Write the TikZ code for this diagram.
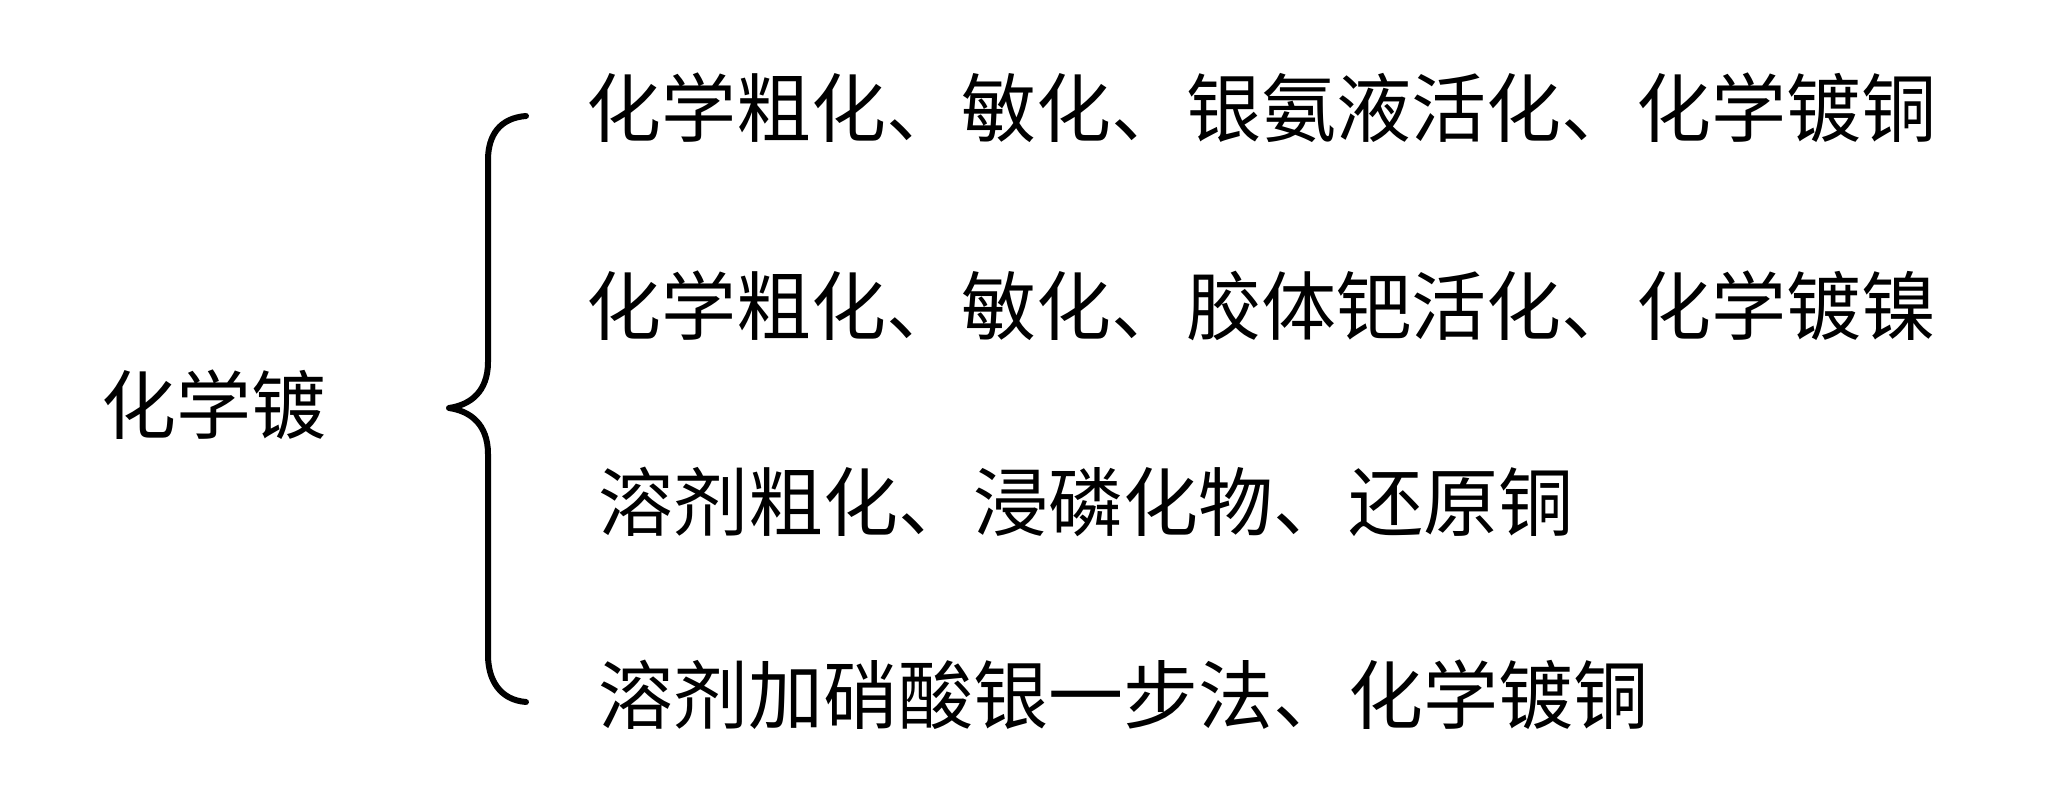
\documentclass[tikz,border=0pt]{standalone}
\usepackage{fontspec}
\setmainfont{Noto Sans CJK SC}
\begin{document}
\begin{tikzpicture}[x=0.5pt,y=-0.5pt,
  lbl/.style={inner sep=0pt,font=\fontsize{37.5}{45}\selectfont},
  item/.style={lbl,anchor=west},
  bracestroke/.style={line width=3pt,line cap=round,line join=round}]
\useasboundingbox (0,0) rectangle (2060,785);
\node[lbl] (root) at (214,405) {化学镀};
\node[item] (l1) at (586,108) {化学粗化、敏化、银氨液活化、化学镀铜};
\node[item] (l2) at (586,306) {化学粗化、敏化、胶体钯活化、化学镀镍};
\node[item] (l3) at (598,502) {溶剂粗化、浸磷化物、还原铜};
\node[item] (l4) at (598,695) {溶剂加硝酸银一步法、化学镀铜};
\coordinate (btop) at (526,116);
\coordinate (btip) at (449,408);
\coordinate (bbot) at (526,702);
\draw[bracestroke] (btop) .. controls (500,118) and (488,135) .. (488,160)
  -- (488,362) .. controls (488,392) and (470,405) .. (btip)
  .. controls (470,411) and (488,424) .. (488,454)
  -- (488,655) .. controls (488,680) and (500,700) .. (bbot);
\end{tikzpicture}
\end{document}
